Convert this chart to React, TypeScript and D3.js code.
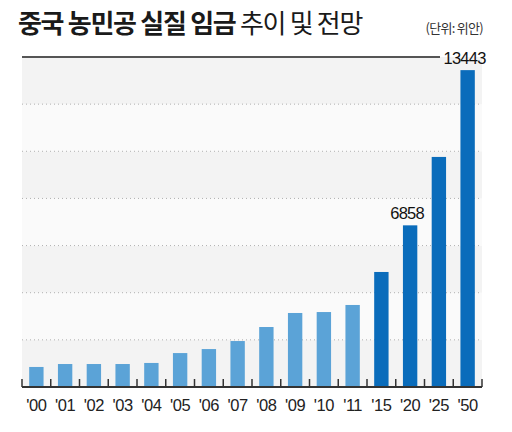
import React from "react";
import * as d3 from "d3";

const years = ["'00", "'01", "'02", "'03", "'04", "'05", "'06", "'07", "'08", "'09", "'10", "'11", "'15", "'20", "'25", "'50"];
const wages = [850, 975, 975, 975, 1020, 1440, 1610, 1950, 2545, 3140, 3180, 3480, 4880, 6858, 9760, 13443];
// Years from '15 onward are projections
const forecast = [false, false, false, false, false, false, false, false, false, false, false, false, true, true, true, true];
const labelledYears = ["'20", "'50"];
const gridValues = [0, 2000, 4000, 6000, 8000, 10000, 12000, 14000];

const W = 512;
const H = 432;
const left = 22;
const right = 482;
const top = 57;
const bottom = 387;

export default function App() {
  const x = d3.scaleBand<string>().domain(years).range([left, right]).paddingInner(0.5).paddingOuter(0.25);
  const y = d3.scaleLinear().domain([0, 14000]).range([bottom, top]);
  const step = x.step();

  const bands = d3.range(gridValues.length - 1).map((i) => ({
    y0: y(gridValues[i + 1]),
    y1: y(gridValues[i]),
    shaded: (gridValues.length - 2 - i) % 2 === 0,
  }));

  const boundaries = d3.range(years.length + 1).map((i) => left + i * step);

  return (
    <svg width={W} height={H} style={{ position: "absolute", left: 0, top: 0, background: "#fff" }}>
      <rect x={0} y={0} width={W} height={H} fill="#fff" />
      {/* title */}
      <text x={18} y={33} fontFamily="'Noto Sans CJK KR'" fontSize={26} letterSpacing={-1.3} fill="#1a1a1a">
        <tspan fontWeight={700}>중국 농민공 실질 임금</tspan>
        <tspan fontWeight={400}> 추이 및 전망</tspan>
      </text>
      <text x={483} y={33} textAnchor="end" fontFamily="'Noto Sans CJK KR'" fontSize={13} letterSpacing={-0.7} fill="#333">
        (단위: 위안)
      </text>

      {/* alternating background bands */}
      {bands.map((b, i) => (
        <rect key={i} x={left} y={b.y0} width={right - left} height={b.y1 - b.y0} fill={b.shaded ? "#f3f3f3" : "#fafafa"} />
      ))}

      {/* dotted gridlines */}
      {gridValues.slice(1, -1).map((v) => (
        <line key={v} x1={left} x2={right} y1={y(v)} y2={y(v)} stroke="#b0b0b0" strokeWidth={1} strokeDasharray="1 3" />
      ))}

      {/* top rule */}
      <line x1={left} x2={440} y1={y(14000)} y2={y(14000)} stroke="#555" strokeWidth={2} />

      {/* bars */}
      {years.map((yr, i) => (
        <rect
          key={yr}
          x={x(yr)}
          y={y(wages[i])}
          width={x.bandwidth()}
          height={bottom - y(wages[i])}
          fill={forecast[i] ? "#0a6cbb" : "#5ba3d7"}
        />
      ))}

      {/* value labels */}
      {years.map((yr, i) =>
        labelledYears.includes(yr) ? (
          <text
            key={yr}
            x={(x(yr) as number) + x.bandwidth() / 2 - 3}
            y={y(wages[i]) - 6}
            textAnchor="middle"
            fontFamily="'Liberation Sans', Arial, sans-serif"
            fontSize={16.5}
            letterSpacing={-0.7}
            fill="#111"
          >
            {wages[i]}
          </text>
        ) : null
      )}

      {/* x axis */}
      <line x1={left} x2={right} y1={bottom} y2={bottom} stroke="#333" strokeWidth={2} />
      {boundaries.map((bx, i) => (
        <line key={i} x1={bx} x2={bx} y1={bottom} y2={bottom - 8} stroke="#333" strokeWidth={1.5} />
      ))}
      {years.map((yr) => (
        <text
          key={yr}
          x={(x(yr) as number) + x.bandwidth() / 2}
          y={411}
          textAnchor="middle"
          fontFamily="'Liberation Sans', Arial, sans-serif"
          fontSize={16.5}
          letterSpacing={-0.5}
          fill="#222"
        >
          {yr}
        </text>
      ))}
    </svg>
  );
}
